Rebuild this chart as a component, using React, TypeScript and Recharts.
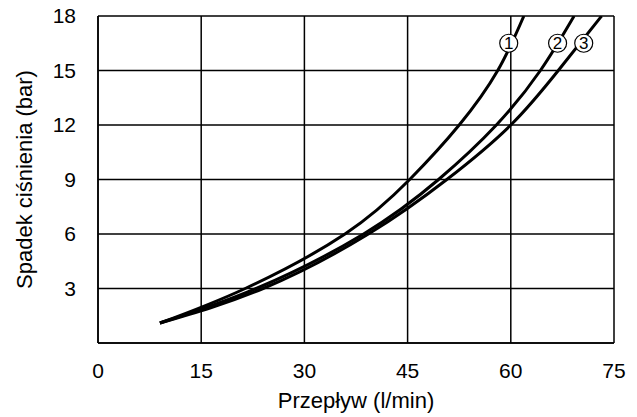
import { CartesianGrid, Label, Line, LineChart, ReferenceDot, XAxis, YAxis } from "recharts";

// curve 1
const flow1 = [9, 21.4, 35.9, 45.3, 52.5, 58.1, 61.9];
const press1 = [1.1, 3, 6, 9, 12, 15, 18];

// curve 2
const flow2 = [9, 23, 38.6, 49.5, 57.9, 64.3, 69.2];
const press2 = [1.1, 3, 6, 9, 12, 15, 18];

// curve 3
const flow3 = [9, 24, 39.3, 50.7, 60, 66.9, 73.2];
const press3 = [1.1, 3, 6, 9, 12, 15, 18];

const curveLabels = ["1", "2", "3"];
const labelFlow = [59.7, 66.8, 70.6];
const labelPress = [16.5, 16.5, 16.5];

const xTicks = [0, 15, 30, 45, 60, 75];
const yTicks = [0, 3, 6, 9, 12, 15, 18];

const toRows = (f: number[], p: number[]) => f.map((x, i) => ({ f: x, p: p[i] }));
const curves = [toRows(flow1, press1), toRows(flow2, press2), toRows(flow3, press3)];

const font = "'Liberation Sans', Arial, sans-serif";

export default function App() {
  return (
    <div style={{ position: "fixed", left: 0, top: 0, background: "#fff" }}>
      <LineChart
        width={637}
        height={417}
        margin={{ top: 16, right: 23, bottom: 0, left: 0 }}
        style={{ fontFamily: font }}
      >
        <CartesianGrid stroke="#000" strokeWidth={1.5} verticalValues={xTicks} horizontalValues={yTicks} />
        <XAxis
          type="number"
          dataKey="f"
          domain={[0, 75]}
          ticks={xTicks}
          height={74}
          tickSize={0}
          tickMargin={20}
          tickLine={false}
          axisLine={{ stroke: "#000", strokeWidth: 1.5 }}
          tick={{ fill: "#000", fontSize: 21 }}
          allowDataOverflow
        >
          <Label value="Przepływ (l/min)" position="insideBottom" offset={9} fill="#000" fontSize={22} />
        </XAxis>
        <YAxis
          type="number"
          dataKey="p"
          domain={[0, 18]}
          ticks={yTicks}
          width={98}
          tickSize={0}
          tickMargin={22}
          tickLine={false}
          axisLine={{ stroke: "#000", strokeWidth: 1.5 }}
          tick={{ fill: "#000", fontSize: 21 }}
          tickFormatter={(v: number) => (v === 0 ? "" : String(v))}
          allowDataOverflow
        >
          <Label
            content={({ viewBox }: any) => {
              const cx = viewBox.x + 24;
              const cy = viewBox.y + viewBox.height / 2;
              return (
                <text
                  x={cx}
                  y={cy}
                  transform={`rotate(-90 ${cx} ${cy})`}
                  textAnchor="middle"
                  dominantBaseline="central"
                  fill="#000"
                  fontSize={22}
                  fontFamily={font}
                >
                  Spadek ciśnienia (bar)
                </text>
              );
            }}
          />
        </YAxis>
        {curves.map((d, i) => (
          <Line
            key={i}
            data={d}
            dataKey="p"
            type="natural"
            stroke="#000"
            strokeWidth={3}
            dot={false}
            activeDot={false}
            isAnimationActive={false}
          />
        ))}
        {curveLabels.map((t, i) => (
          <ReferenceDot
            key={t}
            x={labelFlow[i]}
            y={labelPress[i]}
            r={9}
            fill="#fff"
            stroke="#000"
            strokeWidth={1.2}
            label={{ value: t, position: "center", fill: "#000", fontSize: 17 }}
          />
        ))}
      </LineChart>
    </div>
  );
}
